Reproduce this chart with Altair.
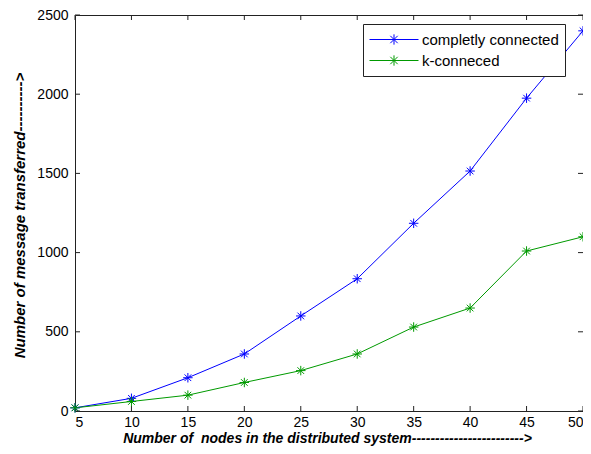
import altair as alt
import pandas as pd

nodes = [5, 10, 15, 20, 25, 30, 35, 40, 45, 50]
completely = [20, 80, 210, 360, 600, 835, 1185, 1515, 1975, 2400]
kconnected = [20, 60, 100, 180, 255, 360, 530, 650, 1010, 1100]
series_names = ["completly connected", "k-conneced"]
colors = ["#0000ff", "#009a00"]
x_ticks = [5, 10, 15, 20, 25, 30, 35, 40, 45, 50]
y_ticks = [0, 500, 1000, 1500, 2000, 2500]

rows = []
for n, a, b in zip(nodes, completely, kconnected):
    rows.append({"nodes": n, "messages": a, "series": series_names[0]})
    rows.append({"nodes": n, "messages": b, "series": series_names[1]})
df = pd.DataFrame(rows)
xt = pd.DataFrame({"v": x_ticks})
yt = pd.DataFrame({"v": y_ticks})

W, H = 508, 396
FONT = "Liberation Sans"
STAR = "M-1,0L1,0M0,-1L0,1M-0.7,-0.7L0.7,0.7M-0.7,0.7L0.7,-0.7"
LEG = ("M-1,0L1,0M-0.21,0L0.21,0M0,-0.21L0,0.21"
       "M-0.15,-0.15L0.15,0.15M-0.15,0.15L0.15,-0.15")

xscale = alt.Scale(domain=[5, 50], nice=False, zero=False)
yscale = alt.Scale(domain=[0, 2500], nice=False)

xaxis = alt.Axis(values=x_ticks, ticks=False, domain=False, grid=False, format="d",
                 labelPadding=4, labelFontSize=14, labelFont=FONT, labelColor="black",
                 title="Number of \u00a0nodes in the distributed system------------------------>",
                 titleFont=FONT, titleFontSize=14, titleFontWeight="bold",
                 titleFontStyle="italic", titleColor="black",
                 titleX=252, titleY=27, titleBaseline="middle", titleAlign="center")
yaxis = alt.Axis(values=y_ticks, ticks=False, domain=False, grid=False, format="d",
                 labelPadding=7, labelFontSize=14, labelFont=FONT, labelColor="black",
                 title="Number of message transferred---------->",
                 titleFont=FONT, titleFontSize=15, titleFontWeight="bold",
                 titleFontStyle="italic", titleColor="black",
                 titleX=-56, titleY=200, titleBaseline="middle", titleAlign="center",
                 titleAngle=270)

color = alt.Color("series:N",
                  scale=alt.Scale(domain=series_names, range=colors),
                  sort=series_names,
                  legend=alt.Legend(title=None, orient="none", legendX=288, legendY=9,
                                    symbolType=LEG, symbolSize=2401, symbolStrokeWidth=1,
                                    clipHeight=19, labelOffset=3, labelFontSize=15,
                                    labelFont=FONT, labelColor="black",
                                    padding=6, strokeColor="#222222", fillColor="white",
                                    rowPadding=2, labelLimit=300))

base = alt.Chart(df).encode(
    x=alt.X("nodes:Q", scale=xscale, axis=xaxis),
    y=alt.Y("messages:Q", scale=yscale, axis=yaxis),
    color=color,
)
lines = base.mark_line(strokeWidth=1)
points = base.mark_point(shape=STAR, size=90, filled=False, strokeWidth=1, opacity=1)

tick_style = dict(color="#222222", strokeWidth=1)
bt = alt.Chart(xt).mark_rule(**tick_style).encode(
    x=alt.X("v:Q", scale=xscale), y=alt.value(H), y2=alt.value(H - 5))
tt = alt.Chart(xt).mark_rule(**tick_style).encode(
    x=alt.X("v:Q", scale=xscale), y=alt.value(0), y2=alt.value(5))
lt = alt.Chart(yt).mark_rule(**tick_style).encode(
    y=alt.Y("v:Q", scale=yscale), x=alt.value(0), x2=alt.value(5))
rt = alt.Chart(yt).mark_rule(**tick_style).encode(
    y=alt.Y("v:Q", scale=yscale), x=alt.value(W), x2=alt.value(W - 5))

chart = alt.layer(bt, tt, lt, rt, lines, points).properties(
    width=W, height=H,
    autosize=alt.AutoSizeParams(type="none"),
    padding={"left": 67, "top": 7, "right": 0, "bottom": 35},
    background="white",
).configure_view(stroke="#222222", strokeWidth=1)

chart.save("out.html", embed_options={"renderer": "svg", "actions": False})
